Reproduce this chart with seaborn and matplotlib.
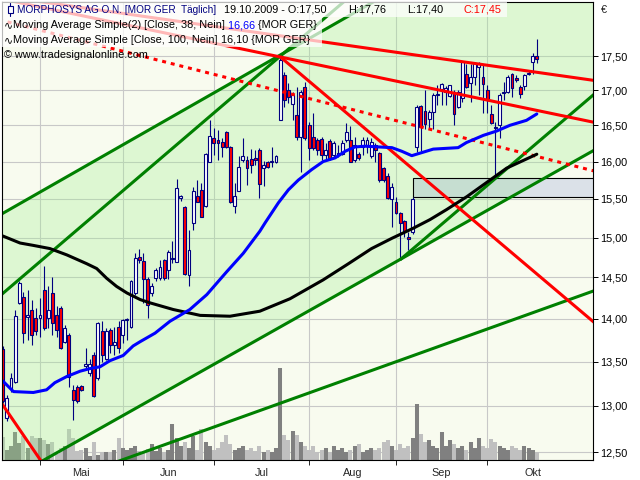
import numpy as np
import pandas as pd
import matplotlib
matplotlib.use("Agg")
import matplotlib.pyplot as plt
import matplotlib.transforms as mtransforms
from matplotlib.patches import Rectangle
from matplotlib.ticker import FixedLocator, FixedFormatter, NullFormatter, FuncFormatter
import seaborn as sns

sns.set_style("white")
plt.rcParams["font.family"] = ["Liberation Sans", "DejaVu Sans"]

# Handelstage Xetra (1. Mai kein Handel)
tage = pd.bdate_range("2009-04-20", "2009-10-19")
tage = tage[tage != pd.Timestamp("2009-05-01")]

eroeffnung = [13.65, 12.87, 13.19, 13.27, 14.19, 14.26, 14.02, 14.11, 14.01, 14.01,
              14.35, 14.01, 14.31, 14.05, 14.13, 13.73, 13.81, 13.18, 13.21, 13.22,
              13.45, 13.37, 13.58, 13.31, 13.85, 13.53, 13.87, 13.69, 13.90, 13.81,
              13.98, 13.90, 14.31, 14.75, 14.70, 14.48, 14.31, 14.49, 14.49, 14.72,
              14.59, 14.73, 14.69, 15.51, 15.40, 14.53, 15.19, 15.54, 15.62, 15.41,
              16.00, 16.33, 16.29, 16.27, 16.40, 16.20, 15.41, 15.60, 16.02, 16.02,
              16.03, 16.05, 16.16, 15.91, 16.00, 16.00, 16.00, 16.58, 17.22, 17.00,
              16.80, 16.64, 16.34, 17.05, 16.50, 16.34, 16.30, 16.31, 16.09, 16.28,
              16.09, 16.09, 16.10, 16.30, 16.30, 16.02, 16.10, 16.20, 16.22, 16.07,
              16.22, 16.12, 15.91, 15.80, 15.50, 15.46, 15.31, 15.21, 15.01, 15.07,
              16.20, 16.77, 16.70, 16.59, 16.69, 16.93, 17.01, 16.97, 16.92, 16.97,
              16.76, 16.89, 17.23, 17.10, 17.19, 17.34, 17.19, 17.00, 16.66, 16.47,
              16.50, 16.96, 16.97, 17.23, 17.18, 17.04, 17.06, 17.23, 17.41, 17.50]
hoch = [13.68, 13.12, 13.37, 14.10, 14.45, 14.32, 14.35, 14.23, 14.13, 14.25,
        14.64, 14.39, 14.50, 14.15, 14.15, 13.93, 13.83, 13.23, 13.23, 13.23,
        13.66, 13.53, 13.61, 13.96, 13.97, 13.89, 13.89, 13.90, 13.97, 14.00,
        14.01, 14.47, 14.81, 14.85, 14.80, 14.50, 14.43, 14.62, 14.72, 14.73,
        14.84, 14.96, 15.77, 15.55, 15.41, 15.10, 15.66, 15.75, 15.71, 16.11,
        16.57, 16.46, 16.43, 16.32, 16.42, 16.21, 15.71, 16.07, 16.32, 16.07,
        16.17, 16.16, 16.19, 16.01, 16.01, 16.20, 16.09, 17.49, 17.26, 17.10,
        16.97, 17.05, 17.00, 17.12, 16.55, 16.67, 16.32, 16.34, 16.25, 16.31,
        16.28, 16.22, 16.30, 16.53, 16.49, 16.34, 16.13, 16.34, 16.34, 16.32,
        16.25, 16.13, 15.92, 15.84, 15.71, 15.53, 15.33, 15.23, 15.07, 15.53,
        16.79, 16.79, 17.00, 16.72, 16.96, 17.07, 17.10, 17.06, 17.08, 17.00,
        17.00, 17.43, 17.38, 17.38, 17.41, 17.41, 17.38, 17.07, 16.79, 16.54,
        16.96, 17.12, 17.22, 17.25, 17.22, 17.07, 17.23, 17.28, 17.54, 17.76]
tief = [13.03, 12.84, 13.16, 13.26, 14.18, 13.71, 13.75, 13.69, 13.81, 13.78,
        13.87, 13.89, 13.81, 13.78, 13.64, 13.71, 13.21, 12.85, 13.03, 13.17,
        13.43, 13.34, 13.10, 13.29, 13.50, 13.52, 13.60, 13.57, 13.60, 13.71,
        13.75, 13.89, 14.29, 14.68, 14.19, 14.01, 14.27, 14.45, 14.47, 14.47,
        14.48, 14.68, 14.69, 15.47, 14.53, 14.40, 15.10, 15.46, 15.26, 15.40,
        15.99, 16.09, 16.02, 16.06, 16.19, 15.45, 15.32, 15.60, 16.00, 15.69,
        15.85, 15.95, 15.51, 15.67, 15.91, 15.93, 15.98, 16.57, 16.76, 16.81,
        16.57, 16.30, 15.86, 16.30, 16.02, 16.16, 16.09, 16.02, 16.02, 16.02,
        16.05, 16.06, 16.09, 16.27, 16.00, 16.00, 16.02, 16.09, 16.12, 16.05,
        16.00, 15.72, 15.72, 15.50, 15.13, 15.30, 14.72, 15.01, 14.84, 15.04,
        16.13, 16.15, 16.45, 16.45, 16.45, 16.79, 16.79, 16.79, 16.90, 16.50,
        16.74, 16.83, 17.03, 16.83, 17.08, 16.93, 16.68, 16.68, 16.52, 15.78,
        16.32, 16.86, 16.96, 16.90, 17.12, 16.89, 17.00, 17.22, 17.23, 17.40]
schluss = [13.05, 13.09, 13.31, 14.03, 14.43, 13.83, 14.04, 13.81, 13.85, 14.05,
           13.89, 14.11, 13.95, 13.87, 13.66, 13.89, 13.32, 13.07, 13.05, 13.18,
           13.47, 13.47, 13.11, 13.95, 13.57, 13.86, 13.69, 13.73, 13.66, 13.99,
           14.00, 14.45, 14.74, 14.72, 14.48, 14.16, 14.39, 14.59, 14.63, 14.49,
           14.82, 14.74, 15.64, 15.54, 14.54, 14.84, 15.61, 15.46, 15.27, 16.10,
           16.35, 16.25, 16.25, 16.20, 16.20, 15.46, 15.54, 15.93, 16.07, 15.91,
           15.95, 16.02, 15.70, 15.95, 15.93, 16.01, 16.07, 17.44, 16.86, 16.90,
           16.93, 16.34, 16.97, 16.32, 16.18, 16.18, 16.16, 16.09, 16.16, 16.05,
           16.25, 16.12, 16.25, 16.40, 16.00, 16.22, 16.05, 16.30, 16.30, 16.27,
           16.16, 15.75, 15.75, 15.51, 15.66, 15.31, 15.19, 15.08, 14.98, 15.50,
           16.76, 16.47, 16.52, 16.69, 16.93, 16.94, 17.09, 17.03, 17.07, 16.66,
           16.97, 17.41, 17.04, 17.19, 17.40, 17.40, 17.09, 16.86, 16.53, 16.46,
           16.93, 16.97, 17.19, 17.03, 17.15, 16.94, 17.22, 17.25, 17.50, 17.45]
# Umsatz in Tsd. Stueck
volumen = [230, 100, 140, 280, 170, 240, 120, 240, 220, 220,
           200, 160, 180, 60, 120, 140, 310, 220, 90, 100,
           120, 40, 180, 50, 80, 80, 80, 100, 220, 120,
           100, 120, 140, 90, 80, 110, 160, 90, 120, 80,
           100, 360, 220, 140, 180, 120, 240, 100, 310, 180,
           140, 100, 120, 180, 250, 160, 100, 120, 140, 100,
           120, 90, 140, 80, 100, 80, 120, 920, 250, 200,
           290, 250, 180, 140, 100, 140, 80, 100, 120, 80,
           140, 100, 120, 80, 100, 140, 160, 80, 100, 120,
           100, 120, 180, 200, 140, 100, 160, 120, 140, 220,
           560, 260, 180, 200, 140, 120, 280, 140, 200, 160,
           120, 140, 100, 180, 120, 220, 140, 120, 210, 180,
           140, 120, 100, 140, 120, 100, 140, 120, 100, 80]

# gleitende Durchschnitte (Handelstag, Wert)
ma38_tag = [0, 2.6, 7.4, 10.6, 12.6, 15.5, 18.7, 21.1, 23.5, 25.9, 29.1, 31.5, 33.2,
            36.8, 40.4, 45.2, 49.3, 54.1, 58.1, 62.1, 63.4, 66.6, 69, 71.4, 74.6,
            77.4, 80.3, 82.7, 85.1, 87.5, 90.7, 94, 96.4, 98.8, 104, 110, 112,
            116.1, 119.3, 122.5, 126.5, 129]
ma38_wert = [13.28, 13.16, 13.15, 13.18, 13.26, 13.33, 13.39, 13.42, 13.44, 13.51,
             13.57, 13.68, 13.73, 13.83, 13.97, 14.11, 14.29, 14.57, 14.80, 15.08,
             15.19, 15.45, 15.62, 15.75, 15.89, 16.00, 16.05, 16.14, 16.20, 16.21,
             16.20, 16.19, 16.14, 16.08, 16.17, 16.19, 16.26, 16.36, 16.42, 16.50,
             16.57, 16.66]
ma100_tag = [0, 4.2, 7.4, 11.4, 15.5, 20.3, 22.7, 25.1, 27.5, 30, 33.2, 35.6, 41.2,
             47.7, 54.9, 62.1, 69.4, 77.4, 83.5, 89.1, 94, 99.2, 103.2, 107.2,
             112.1, 117.7, 121.7, 129]
ma100_wert = [15.02, 14.93, 14.90, 14.86, 14.78, 14.67, 14.61, 14.49, 14.39, 14.31,
              14.23, 14.19, 14.11, 14.04, 14.03, 14.09, 14.24, 14.47, 14.67, 14.86,
              14.99, 15.12, 15.23, 15.36, 15.53, 15.75, 15.91, 16.10]

# Trendlinien: [tag_a, kurs_a, tag_b, kurs_b]
kanal_oben = [-1, 15.28, 143, 20.40]
kanal_unten = [-1, 12.15, 143, 16.16]
gruen_steil = [-1, 14.26, 90, 18.75]
gruen_steil_unten = [96, 14.72, 143, 16.95]
gruen_flach = [20, 12.28, 143, 14.34]
rot_steil = [67, 17.49, 143, 13.95]
rot_oben = [-1, 18.42, 143, 17.14]
rot_mitte = [-1, 18.38, 143, 16.54]
rot_gepunktet = [-1, 18.05, 143, 15.87]
rot_links = [-1, 13.08, 10, 12.36]
zone = [99, 143, 15.53, 15.78]

monate = ["Mai", "Jun", "Jul", "Aug", "Sep", "Okt"]

# ---------------------------------------------------------------
eroeffnung = np.array(eroeffnung); schluss = np.array(schluss)
hoch = np.array(hoch); tief = np.array(tief); volumen = np.array(volumen)
x = np.arange(len(schluss))

fig = plt.figure(figsize=(6.4, 4.8), dpi=100)
fig.patch.set_facecolor("white")
ax = fig.add_axes([1.7 / 640, 1 - 460 / 480, 591 / 640, 458.5 / 480])
ax.set_facecolor("#f8fbef")
ax.set_yscale("log")
ax.set_xlim(-0.24, 142.5)
ax.set_ylim(12.417, 18.33)

# Gitter
yt = [12.5, 13.0, 13.5, 14.0, 14.5, 15.0, 15.5, 16.0, 16.5, 17.0, 17.5]
wechsel = np.flatnonzero(np.diff(tage.month)) + 1
ax.yaxis.set_major_locator(FixedLocator(yt))
ax.yaxis.set_minor_locator(FixedLocator([]))
ax.yaxis.set_major_formatter(FuncFormatter(lambda v, p: f"{v:.2f}".replace(".", ",")))
ax.xaxis.set_major_locator(FixedLocator(wechsel))
ax.xaxis.set_major_formatter(NullFormatter())
mitten = list((wechsel[:-1] + wechsel[1:]) / 2) + [wechsel[-1] + 11]
ax.xaxis.set_minor_locator(FixedLocator(mitten))
ax.xaxis.set_minor_formatter(FixedFormatter(monate))
ax.grid(True, which="major", color="#c8c8c8", linewidth=0.8, zorder=0)
ax.set_axisbelow(True)

# Umsatz unten (eigene Skala, 10 Tsd. je Pixel)
blend = mtransforms.blended_transform_factory(ax.transData, ax.transAxes)
vol_max = 4585.0
farbe_vol = np.where(schluss >= eroeffnung, "#808080", "#c0c0c0")
ax.vlines(x, 0, volumen / vol_max, colors=farbe_vol, linewidth=2.9,
          transform=blend, zorder=1)

# gruener Trendkanal
ax.fill_between([kanal_oben[0], kanal_oben[2]], [kanal_oben[1], kanal_oben[3]],
                [kanal_unten[1], kanal_unten[3]], color="#a0f090", alpha=0.3,
                linewidth=0, zorder=2)

# Zone
ax.add_patch(Rectangle((zone[0], zone[2]), zone[1] - zone[0], zone[3] - zone[2],
                       facecolor="#7888d0", alpha=0.22, edgecolor="none", zorder=3))
ax.add_patch(Rectangle((zone[0], zone[2]), zone[1] - zone[0], zone[3] - zone[2],
                       facecolor="none", edgecolor="black", linewidth=0.8, zorder=3))

# Kerzen
lo = np.minimum(eroeffnung, schluss)
hi = np.maximum(eroeffnung, schluss)
ax.vlines(x, tief, hoch, colors="#000080", linewidth=0.8, zorder=5)
ax.bar(x, np.maximum(hi - lo, 0.004), bottom=lo, width=0.7,
       color=np.where(schluss >= eroeffnung, "white", "#ff0000"),
       edgecolor="#000080", linewidth=0.8, zorder=6)

# Trendlinien
def linie(t, farbe, **kw):
    ax.plot([t[0], t[2]], [t[1], t[3]], color=farbe, linewidth=2.2,
            solid_capstyle="butt", zorder=7, **kw)

for t in [kanal_oben, kanal_unten, gruen_steil, gruen_steil_unten, gruen_flach]:
    linie(t, "#008000")
for t in [rot_steil, rot_oben, rot_mitte, rot_links]:
    linie(t, "#ff0000")
linie(rot_gepunktet, "#ff0000", linestyle=(0, (1.3, 1.6)))

sns.lineplot(x=ma100_tag, y=ma100_wert, ax=ax, color="black", linewidth=2.2,
             sort=False, estimator=None, zorder=8)
sns.lineplot(x=ma38_tag, y=ma38_wert, ax=ax, color="#0000ff", linewidth=2.2,
             sort=False, estimator=None, zorder=8)
ax.set_xlabel("")
ax.set_ylabel("")

# Achsen
for s in ax.spines.values():
    s.set_color("black")
    s.set_linewidth(0.8)
    s.set_zorder(10)
ax.yaxis.tick_right()
ax.tick_params(axis="y", which="major", direction="out", length=3.5, width=0.7,
               pad=2, labelsize=7.8, colors="black")
ax.tick_params(axis="x", which="major", direction="out", length=3.5, width=0.7,
               bottom=True, top=False)
ax.tick_params(axis="x", which="minor", length=0, pad=6, labelsize=7.8)

# Kopfzeilen in Pixelkoordinaten
px = mtransforms.Affine2D().scale(1, -1).translate(0, 480)
for rect in [(0, 2, 507, 15), (0, 17, 322, 30)]:
    fig.add_artist(Rectangle(rect[:2], rect[2], rect[3], transform=px,
                             facecolor="white", alpha=0.72, edgecolor="none",
                             zorder=20))

fig.canvas.draw()
r = fig.canvas.get_renderer()

def zeile(x0, y0, teile, groesse=7.8):
    xx = x0
    for s, farbe in teile:
        t = fig.text(xx, y0, s, color=farbe, transform=px, va="center", ha="left",
                     fontsize=groesse, zorder=21)
        xx += t.get_window_extent(renderer=r).width
    return xx

zeile(17, 10, [("MORPHOSYS AG O.N. [MOR GER  Täglich]", "#000080")], groesse=7.2)
zeile(224, 10, [("19.10.2009 - O:17,50", "black")])
zeile(348, 10, [("H:17,76", "black")])
zeile(407, 10, [("L:17,40", "black")])
zeile(463, 10, [("C:17,45", "#ff0000")])
zeile(4, 25, [("∿", "black"), ("Moving Average Simple(2) [Close, 38, Nein]", "black"),
              (" 16,66", "#0000ff"), (" {MOR GER}", "black")])
zeile(4, 40, [("∿", "black"), ("Moving Average Simple [Close, 100, Nein]", "black"),
              (" 16,10 {MOR GER}", "black")])
zeile(4, 55, [("© www.tradesignalonline.com", "black")])

# Kerzensymbol vor der Titelzeile
fig.add_artist(plt.Line2D([10, 10], [3, 16], transform=px, color="#000080",
                          linewidth=0.8, zorder=21))
fig.add_artist(Rectangle((7.5, 6), 5, 7, transform=px, facecolor="white",
                         edgecolor="#000080", linewidth=0.8, zorder=22))
fig.text(601, 10, "€", transform=px, va="center", ha="left", fontsize=7.8)

fig.savefig("out.png", dpi=100)
